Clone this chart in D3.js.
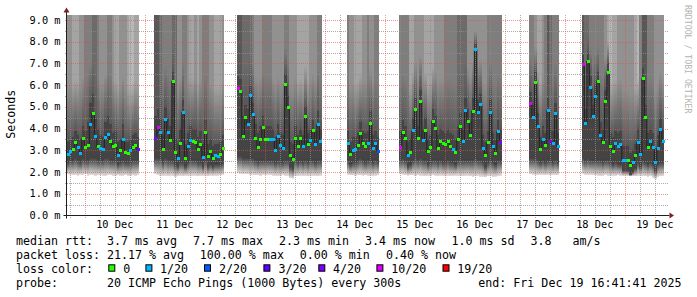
<!DOCTYPE html>
<html>
<head>
<meta charset="utf-8">
<script src="https://cdn.jsdelivr.net/npm/d3@7"></script>
<style>
  body { margin: 0; background: #fff; }
  text { font-family: "DejaVu Sans Mono", monospace; }
</style>
</head>
<body>
<div id="chart"></div>
<script>
/* DATA */
const rangeStart = "2025-12-09T16:41:41";
const rangeEnd = "2025-12-19T16:41:41";
const yMax = 9.23;
const yTickValues = [0, 1, 2, 3, 4, 5, 6, 7, 8, 9];

// hourly steps, one block of data per period the host answered
const segmentStarts = ["2025-12-09T16:50:00", "2025-12-11T03:50:00", "2025-12-12T12:50:00",
  "2025-12-14T08:50:00", "2025-12-15T05:50:00", "2025-12-17T09:50:00", "2025-12-18T06:50:00"];
const segmentSteps = [29, 28, 34, 13, 41, 12, 33];

// median rtt (ms)
const median = [
  2.82,2.95,3.04,3.36,3.15,2.84,3.55,3.12,3.23,4.21,4.70,3.64,3.17,3.07,3.06,3.58,3.73,3.42,3.18,3.22,2.76,2.98,3.49,2.89,2.87,2.98,3.15,3.23,3.04,
  3.56,4.07,3.81,3.04,4.41,3.84,3.47,6.19,2.90,2.63,3.33,4.76,2.63,3.17,3.46,3.40,3.38,3.03,3.29,2.69,3.81,2.72,2.95,2.61,2.75,2.73,2.82,3.07,
  5.84,5.73,3.64,4.52,4.19,5.51,4.67,3.55,3.13,3.52,4.06,3.49,3.49,3.52,3.52,3.00,3.63,3.23,3.07,6.04,4.96,2.76,2.59,3.55,3.18,3.53,3.18,4.55,3.29,3.46,3.90,3.26,4.19,3.40,
  3.30,2.81,3.01,3.04,3.24,3.78,3.30,3.19,3.30,4.25,3.09,3.32,2.96,
  3.13,3.81,3.55,2.78,2.89,3.89,4.90,3.55,5.24,3.47,3.89,2.94,3.13,4.35,4.00,3.09,3.42,3.32,3.27,3.40,3.18,3.06,2.92,3.49,4.09,3.42,4.84,4.35,3.67,4.81,7.65,4.75,5.10,3.10,2.75,3.35,4.76,3.18,2.86,3.86,3.36,
  5.15,4.53,6.10,4.10,3.04,3.49,3.21,4.84,3.42,3.32,4.69,3.18,
  6.96,4.22,7.11,5.88,4.55,5.48,6.19,3.67,3.35,5.25,6.56,3.18,2.96,3.32,3.17,3.26,2.55,2.55,2.55,2.29,2.43,2.75,3.38,2.80,6.30,4.50,3.15,3.42,3.15,2.44,3.10,3.95,3.42
];

// lost pings out of 20
const lossCount = [
  1,1,0,0,1,1,0,0,0,1,0,1,0,1,1,1,1,0,0,0,1,0,1,0,0,1,0,0,4,
  4,10,1,0,1,1,0,0,0,1,0,1,0,1,1,0,0,0,0,1,0,0,0,0,1,1,0,0,
  10,0,0,0,1,1,1,0,0,0,0,0,0,1,1,1,1,1,1,0,0,0,0,0,0,0,1,0,0,1,0,1,1,1,
  1,0,1,1,0,0,0,0,1,0,1,1,2,
  10,0,0,1,0,1,0,0,0,1,0,0,0,0,0,0,0,0,0,0,0,1,0,0,0,1,1,0,0,0,1,1,1,1,0,0,1,1,0,1,4,
  10,1,0,1,0,1,0,1,4,1,1,1,
  10,1,0,1,1,1,0,1,0,0,0,0,0,1,1,1,1,1,0,0,1,0,1,1,0,0,0,1,1,1,1,1,1
];

// smoke: fastest ping (ms)
const smokeLow = [
  1.90,1.88,1.85,1.86,1.84,1.88,1.86,1.90,1.84,1.87,1.85,1.83,1.86,1.86,1.84,1.82,1.85,1.86,1.84,1.83,1.85,1.84,1.82,1.86,1.83,1.82,1.85,1.84,1.88,
  1.90,1.85,1.84,1.82,1.83,1.80,1.84,1.82,1.78,1.82,1.83,1.80,1.84,1.82,1.84,1.83,1.83,1.80,1.82,1.83,1.82,1.81,1.84,1.83,1.84,1.84,1.86,1.86,
  1.95,1.93,1.90,1.92,1.90,1.88,1.88,1.86,1.87,1.84,1.86,1.86,1.88,1.86,1.84,1.83,1.82,1.84,1.86,1.84,1.83,1.72,1.70,1.80,1.82,1.84,1.82,1.83,1.80,1.84,1.83,1.82,1.80,1.84,
  1.88,1.86,1.85,1.84,1.86,1.85,1.84,1.85,1.83,1.84,1.82,1.84,1.86,
  1.92,1.88,1.86,1.84,1.85,1.86,1.83,1.85,1.84,1.82,1.80,1.84,1.83,1.85,1.84,1.82,1.84,1.83,1.82,1.84,1.83,1.82,1.84,1.83,1.82,1.80,1.82,1.84,1.80,1.78,1.80,1.82,1.79,1.78,1.76,1.80,1.82,1.78,1.79,1.80,1.84,
  1.90,1.88,1.87,1.86,1.88,1.87,1.86,1.88,1.86,1.87,1.86,1.88,
  1.92,1.88,1.86,1.88,1.86,1.85,1.84,1.82,1.84,1.86,1.84,1.83,1.84,1.82,1.86,1.84,1.82,1.84,1.82,1.80,1.82,1.80,1.82,1.84,1.82,1.80,1.78,1.80,1.74,1.70,1.78,1.80,1.82
];

// smoke: where the dense pings begin (ms)
const smokeDark = [
  2.5,2.6,2.6,2.7,2.6,2.5,2.7,2.6,2.6,2.7,2.7,2.7,2.6,2.6,2.6,2.7,2.7,2.6,2.6,2.6,2.4,2.5,2.6,2.5,2.5,2.5,2.6,2.6,2.6,
  2.7,2.7,2.7,2.5,2.7,2.6,2.6,2.6,2.4,2.3,2.5,2.5,2.3,2.5,2.6,2.6,2.6,2.5,2.5,2.3,2.6,2.3,2.4,2.3,2.4,2.4,2.4,2.5,
  2.8,2.8,2.7,2.7,2.7,2.7,2.7,2.6,2.5,2.6,2.6,2.6,2.6,2.6,2.6,2.5,2.6,2.5,2.5,2.6,2.6,2.3,2.2,2.6,2.5,2.6,2.5,2.6,2.5,2.6,2.6,2.5,2.6,2.6,
  2.6,2.4,2.5,2.5,2.6,2.7,2.6,2.5,2.6,2.6,2.5,2.6,2.5,
  2.6,2.7,2.6,2.3,2.4,2.6,2.7,2.6,2.7,2.6,2.6,2.4,2.5,2.6,2.6,2.5,2.6,2.5,2.5,2.6,2.5,2.5,2.4,2.6,2.6,2.6,2.6,2.6,2.6,2.6,2.7,2.6,2.6,2.5,2.3,2.5,2.6,2.5,2.4,2.6,2.6,
  2.7,2.7,2.7,2.6,2.5,2.6,2.5,2.6,2.6,2.5,2.6,2.5,
  2.7,2.6,2.7,2.6,2.6,2.6,2.6,2.6,2.5,2.6,2.6,2.5,2.4,2.5,2.4,2.4,2.1,2.1,2.1,1.9,2.0,2.2,2.5,2.3,2.6,2.5,2.4,2.5,2.4,2.1,2.4,2.5,2.5
];

// smoke: where the dense pings end (ms)
const smokeCore = [
  3.4,3.5,3.6,3.9,3.7,3.5,4.1,3.9,4.3,5.2,5.6,4.5,4.0,3.7,3.6,4.3,4.6,4.2,3.8,3.9,3.4,3.5,4.2,3.4,3.4,3.5,3.7,3.8,3.6,
  4.6,4.9,4.5,3.7,5.0,4.5,4.1,6.6,3.5,3.3,4.0,5.3,3.3,3.8,4.1,4.0,4.0,3.6,3.9,3.3,4.4,3.3,3.5,3.2,3.3,3.3,3.4,3.7,
  6.4,6.3,4.6,5.1,4.9,6.0,5.2,4.2,3.8,4.1,4.6,4.1,4.1,4.1,4.0,3.6,4.2,3.8,3.7,6.5,5.5,3.4,3.3,4.1,3.7,4.0,3.7,5.0,3.8,4.0,4.4,3.9,4.8,4.0,
  3.9,3.4,3.6,3.6,3.8,4.3,3.9,3.8,3.9,4.8,3.7,3.9,3.6,
  3.9,4.4,4.1,3.4,3.5,4.5,5.4,4.1,5.8,4.0,4.5,3.5,3.7,4.9,4.6,3.7,4.0,3.9,3.8,4.0,3.8,3.7,3.5,4.1,4.7,4.0,5.4,4.9,4.3,5.4,7.9,5.3,5.6,3.7,3.4,3.9,5.3,3.8,3.5,4.4,4.0,
  5.7,5.1,6.6,4.7,3.6,4.1,3.8,5.4,4.0,3.9,5.2,3.8,
  7.4,4.9,7.5,6.4,5.1,6.0,6.6,4.3,4.0,5.8,7.0,3.8,3.6,3.9,3.8,3.9,3.2,3.2,3.2,2.9,3.0,3.3,4.0,3.4,6.8,5.1,3.8,4.0,3.8,3.1,3.7,4.5,4.0
];

// smoke: pings above the top of the graph
const smokeOver = [
  5,5,4,4,4,5,5,6,6,6,7,7,6,5,5,5,6,6,5,4,4,5,5,5,4,3,3,4,4,
  8,8,7,6,6,6,6,7,7,5,5,6,6,5,4,4,5,4,5,6,6,6,5,5,4,4,4,5,
  8,8,7,7,7,7,6,5,5,5,6,6,6,6,5,5,5,5,5,6,6,5,5,5,4,4,4,4,4,5,5,5,6,6,
  6,5,5,4,4,4,5,5,6,5,5,6,6,
  6,6,6,6,4,4,5,5,5,5,4,4,4,4,5,5,5,5,6,6,6,6,6,7,7,7,7,5,5,5,5,5,5,5,5,6,6,6,6,6,6,
  6,6,5,4,4,5,6,8,7,6,6,6,
  8,7,7,6,6,6,6,6,6,5,4,3,4,4,5,5,5,5,5,5,5,4,3,6,8,8,6,6,6,5,5,5,5
];

const lossLevels = [0, 1, 2, 3, 4, 10, 19];
const lossLabels = ["0", "1/20", "2/20", "3/20", "4/20", "10/20", "19/20"];
const lossColors = ["#26ff00", "#00b8ff", "#0059ff", "#5e00ff", "#7e00ff", "#dd00ff", "#ff0000"];

const rttStats = ["median rtt:", "3.7 ms avg", "7.7 ms max", "2.3 ms min", "3.4 ms now", "1.0 ms sd", "3.8", "am/s"];
const lossStats = ["packet loss:", "21.17 % avg", "100.00 % max", "0.00 % min", "0.40 % now"];
const probeText = ["probe:", "20 ICMP Echo Pings (1000 Bytes) every 300s", "end: Fri Dec 19 16:41:41 2025"];

/* LAYOUT */
const width = 697, height = 297;
const plot = { left: 66.5, right: 666.5, top: 15, bottom: 215.5 };

const parseTime = d3.timeParse("%Y-%m-%dT%H:%M:%S");
const t0 = parseTime(rangeStart), t1 = parseTime(rangeEnd);

const x = d3.scaleTime().domain([t0, t1]).range([plot.left, plot.right]);
const y = d3.scaleLinear().domain([0, yMax]).range([plot.bottom, plot.top]);
const lossColor = d3.scaleThreshold().domain(lossLevels.slice(1)).range(lossColors);
// smokeping grey for the band that has k pings above it
const grey = k => { const v = Math.round(190 / 10 * (10 - k)) + 50; return d3.rgb(v, v, v).formatHex(); };

const svg = d3.select("#chart").append("svg")
  .attr("width", width).attr("height", height)
  .style("display", "block");

svg.append("rect").attr("width", width).attr("height", height).attr("fill", "#fff");

const defs = svg.append("defs");
defs.append("clipPath").attr("id", "plotClip")
  .append("rect")
  .attr("x", plot.left).attr("y", plot.top)
  .attr("width", plot.right - plot.left).attr("height", plot.bottom - plot.top);

const lowGrad = defs.append("linearGradient").attr("id", "smokeLow")
  .attr("x1", 0).attr("y1", 0).attr("x2", 0).attr("y2", 1);
[[0, "#3c3c3c"], [0.3, "#646464"], [0.65, "#a4a4a4"], [1, "#dedede"]]
  .forEach(([o, c]) => lowGrad.append("stop").attr("offset", o).attr("stop-color", c));

d3.range(1, 10).forEach(k => {
  const g = defs.append("linearGradient").attr("id", "smokeUp" + k)
    .attr("x1", 0).attr("y1", 0).attr("x2", 0).attr("y2", 1);
  g.append("stop").attr("offset", 0).attr("stop-color", grey(k));
  g.append("stop").attr("offset", 0.55).attr("stop-color", grey(k));
  g.append("stop").attr("offset", 1).attr("stop-color", "#575757");
});

/* STEPS */
const steps = [];
const segments = [];
let n = 0;
segmentStarts.forEach((s, si) => {
  const start = parseTime(s);
  const seg = [];
  for (let i = 0; i < segmentSteps[si]; i++, n++) {
    const d = {
      t0: d3.timeHour.offset(start, i),
      t1: d3.timeHour.offset(start, i + 1),
      med: median[n], loss: lossCount[n],
      lo: smokeLow[n], dark: smokeDark[n], core: smokeCore[n], over: smokeOver[n]
    };
    steps.push(d);
    seg.push(d);
  }
  segments.push(seg);
});

/* SMOKE */
const smoke = svg.append("g")
  .attr("clip-path", "url(#plotClip)")
  .attr("shape-rendering", "crispEdges");

const cols = smoke.selectAll("g.col")
  .data(steps)
  .join("g")
  .attr("class", "col");

cols.append("rect")
  .attr("x", d => x(d.t0)).attr("width", d => x(d.t1) - x(d.t0))
  .attr("y", d => y(d.dark)).attr("height", d => y(d.lo) - y(d.dark))
  .attr("fill", "url(#smokeLow)");

cols.append("rect")
  .attr("x", d => x(d.t0)).attr("width", d => x(d.t1) - x(d.t0))
  .attr("y", d => y(d.core)).attr("height", d => y(d.dark) - y(d.core))
  .attr("fill", "#444");

cols.append("rect")
  .attr("x", d => x(d.t0)).attr("width", d => x(d.t1) - x(d.t0))
  .attr("y", plot.top).attr("height", d => y(d.core) - plot.top)
  .attr("fill", d => `url(#smokeUp${d.over})`);

/* GRID */
const gridMinor = "rgba(143,143,143,0.75)";
const gridMajor = "rgba(222,79,79,0.6)";
const grid = svg.append("g")
  .attr("shape-rendering", "crispEdges")
  .attr("stroke-dasharray", "1,1")
  .attr("stroke-width", 1);

const halfSteps = d3.range(0.5, yMax, 0.5);
grid.selectAll("line.h")
  .data(halfSteps)
  .join("line")
  .attr("class", "h")
  .attr("x1", plot.left - 2).attr("x2", plot.right + 2)
  .attr("y1", d => Math.round(y(d)) + 0.5).attr("y2", d => Math.round(y(d)) + 0.5)
  .attr("stroke", d => Number.isInteger(d) ? gridMajor : gridMinor);

const sixHours = d3.timeHour.every(6).range(t0, t1);
grid.selectAll("line.v")
  .data(sixHours)
  .join("line")
  .attr("class", "v")
  .attr("x1", d => Math.round(x(d)) + 0.5).attr("x2", d => Math.round(x(d)) + 0.5)
  .attr("y1", plot.top).attr("y2", plot.bottom + 2)
  .attr("stroke", d => d.getHours() === 0 ? gridMajor : gridMinor);

/* MEDIAN */
const stepLine = d3.line()
  .x(d => x(d[0])).y(d => y(d[1]))
  .curve(d3.curveStepAfter);

svg.append("g")
  .selectAll("path")
  .data(segments)
  .join("path")
  .attr("d", seg => stepLine(seg.map(d => [d.t0, d.med]).concat([[seg[seg.length - 1].t1, seg[seg.length - 1].med]])))
  .attr("fill", "none")
  .attr("stroke", "#202020")
  .attr("stroke-width", 1);

svg.append("g")
  .attr("shape-rendering", "crispEdges")
  .selectAll("rect")
  .data(steps)
  .join("rect")
  .attr("x", d => x(d.t0) - 0.2)
  .attr("width", d => x(d.t1) - x(d.t0) + 0.4)
  .attr("y", d => y(d.med) - 1.5)
  .attr("height", 3)
  .attr("fill", d => lossColor(d.loss));

/* AXES */
const axisColor = "#1f1f1f", arrowColor = "#801f1f";
svg.append("line")
  .attr("x1", plot.left).attr("x2", plot.left)
  .attr("y1", plot.bottom + 3).attr("y2", plot.top - 3)
  .attr("stroke", axisColor);
svg.append("path")
  .attr("d", `M${plot.left - 3},${plot.top - 2.5}L${plot.left + 3},${plot.top - 2.5}L${plot.left},${plot.top - 7.5}Z`)
  .attr("fill", arrowColor);
svg.append("line")
  .attr("x1", plot.left - 3).attr("x2", plot.right + 3)
  .attr("y1", plot.bottom).attr("y2", plot.bottom)
  .attr("stroke", axisColor);
svg.append("path")
  .attr("d", `M${plot.right + 3},${plot.bottom - 3}L${plot.right + 3},${plot.bottom + 3}L${plot.right + 7.5},${plot.bottom}Z`)
  .attr("fill", arrowColor);

// y labels
svg.append("g")
  .selectAll("text")
  .data(yTickValues)
  .join("text")
  .attr("x", 60.5)
  .attr("y", d => y(d) + 3.6)
  .attr("text-anchor", "end")
  .attr("font-size", "10.3px")
  .attr("fill", "#000")
  .text(d => d3.format(".1f")(d) + " m");

// x labels at noon
const noons = d3.timeDay.range(t0, t1).map(d => d3.timeHour.offset(d, 12)).filter(d => d > t0 && d < t1);
svg.append("g")
  .selectAll("text")
  .data(noons)
  .join("text")
  .attr("x", d => x(d))
  .attr("y", 227.7)
  .attr("text-anchor", "middle")
  .attr("font-size", "10.3px")
  .attr("fill", "#000")
  .text(d3.timeFormat("%d %b"));

svg.append("text")
  .attr("transform", "translate(15,114.3) rotate(-90)")
  .attr("text-anchor", "middle")
  .attr("font-size", "11.65px")
  .text("Seconds");

svg.append("text")
  .attr("transform", "translate(684.5,5) rotate(90)")
  .attr("font-size", "8.2px")
  .attr("fill", "#b4b4b4")
  .text("RRDTOOL / TOBI OETIKER");

/* LEGEND */
const legend = svg.append("g")
  .attr("font-size", "11.65px")
  .attr("fill", "#000");

const rttX = [16, 107, 193, 279, 365, 451.5, 530.5, 572.5];
legend.selectAll("text.rtt").data(rttStats).join("text").attr("class", "rtt")
  .attr("x", (d, i) => rttX[i]).attr("y", 244.6).text(d => d);

const lossX = [16, 107, 199.8, 299.7, 385.9];
legend.selectAll("text.loss").data(lossStats).join("text").attr("class", "loss")
  .attr("x", (d, i) => lossX[i]).attr("y", 258.7).text(d => d);

legend.append("text").attr("x", 16).attr("y", 272.9).text("loss color:");
const boxX = [108.3, 145.4, 204, 263.4, 318.3, 376.4, 442.5];
const labelX = [123.3, 160, 218.9, 278.4, 333, 391.2, 457.3];
const swatches = legend.selectAll("g.sw").data(lossLevels).join("g").attr("class", "sw");
swatches.append("rect")
  .attr("x", (d, i) => boxX[i] + 0.5).attr("y", 264.8)
  .attr("width", 6).attr("height", 6.4)
  .attr("fill", d => lossColor(d))
  .attr("stroke", "#000").attr("stroke-width", 1);
swatches.append("text")
  .attr("x", (d, i) => labelX[i]).attr("y", 272.9)
  .text((d, i) => lossLabels[i]);

const probeX = [16, 107, 478.3];
legend.selectAll("text.probe").data(probeText).join("text").attr("class", "probe")
  .attr("x", (d, i) => probeX[i]).attr("y", 287).text(d => d);
</script>
</body>
</html>
